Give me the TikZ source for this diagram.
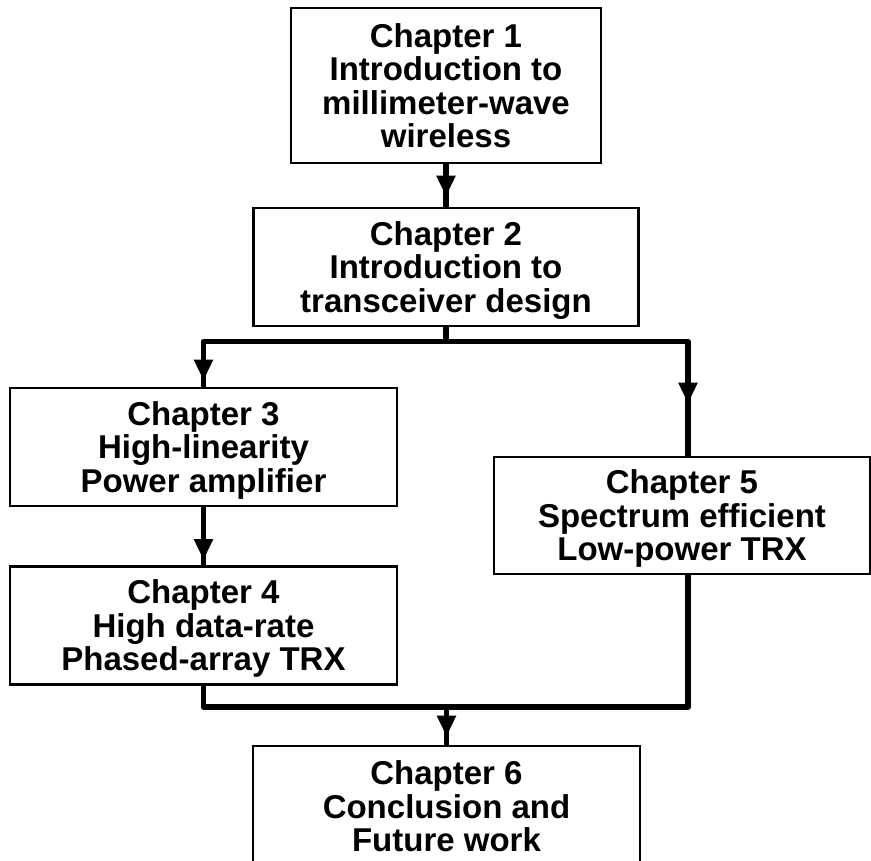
\documentclass[tikz,border=0pt]{standalone}
\usepackage{fontspec}
\setmainfont{Liberation Sans}
\usetikzlibrary{arrows.meta}
\begin{document}
\begin{tikzpicture}[x=1pt,y=-1pt,
  chapbox/.style={draw, line width=2.8pt, align=center, inner sep=0pt,
    text depth=0pt, font=\fontsize{33}{33.5}\selectfont\bfseries},
  link/.style={line width=5.5pt, line join=round, line cap=butt},
  head/.style={line width=5.5pt, -{Triangle[width=18pt,length=21pt]}}]
  \useasboundingbox (0,0) rectangle (871,861);

  % chapter boxes
  \node[chapbox, minimum width=310pt, minimum height=155pt] (c1) at (446,85.5)
    {Chapter 1\\Introduction to\\millimeter-wave\\wireless};
  \node[chapbox, minimum width=385pt, minimum height=118pt] (c2) at (446,267)
    {Chapter 2\\Introduction to\\transceiver design};
  \node[chapbox, minimum width=387pt, minimum height=118pt] (c3) at (203.5,447)
    {Chapter 3\\High-linearity\\Power amplifier};
  \node[chapbox, minimum width=387pt, minimum height=118pt] (c4) at (203.5,625.5)
    {Chapter 4\\High data-rate\\Phased-array TRX};
  \node[chapbox, minimum width=376pt, minimum height=117pt] (c5) at (682,515.5)
    {Chapter 5\\Spectrum efficient\\Low-power TRX};
  \node[chapbox, minimum width=387pt, minimum height=121pt] (c6) at (446.5,806.5)
    {Chapter 6\\Conclusion and\\Future work};

  % branch and merge points
  \coordinate (bl) at (203.5,341.5);
  \coordinate (br) at (688,341.5);
  \coordinate (ml) at (203.5,707);
  \coordinate (mr) at (688,707);

  % connector lines
  \draw[link] (c1.south) -- (c2.north);
  \draw[link] (c2.south) -- (c2.south |- bl);
  \draw[link] (c3.north) -- (bl) -- (br) -- (br |- c5.north);
  \draw[link] (c3.south) -- (c4.north);
  \draw[link] (c4.south) -- (ml) -- (mr) -- (mr |- c5.south);
  \draw[link] (c6.north |- ml) -- (c6.north);

  % arrowheads
  \draw[head, shorten >=10pt] (c1.south) -- (c2.north);
  \draw[head, shorten >=6pt] (bl) -- (c3.north);
  \draw[head, shorten >=52pt] (br) -- (br |- c5.north);
  \draw[head, shorten >=5pt] (c3.south) -- (c4.north);
  \draw[head, shorten >=8pt] (c6.north |- ml) -- (c6.north);
\end{tikzpicture}
\end{document}
